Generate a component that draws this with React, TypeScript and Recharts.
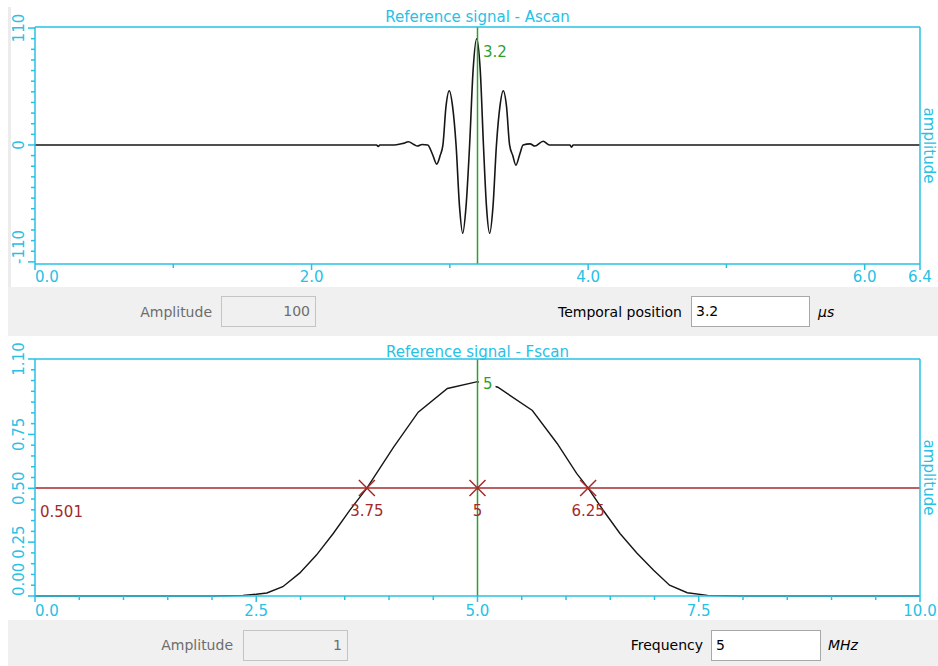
import React from 'react';
import { ComposedChart, Line, XAxis, YAxis, ReferenceLine, Scatter } from 'recharts';

const FONT = '"DejaVu Sans", Verdana, sans-serif';
const CYAN = '#27c1e6';
const GREEN = '#2d9f2d';
const RED = '#a42a2a';
const CURVE = '#161616';

// ---------- Ascan (time domain) ----------
const ascanTime = [
  0, 2.47, 2.482, 2.494, 2.6, 2.663, 2.70, 2.74, 2.765, 2.80,
  2.84, 2.875, 2.905, 2.93, 2.95, 2.972, 2.996, 3.02, 3.045, 3.07,
  3.093, 3.117, 3.143, 3.168, 3.194, 3.22, 3.243, 3.265, 3.288, 3.312,
  3.337, 3.362, 3.386, 3.41, 3.432, 3.455, 3.478, 3.505, 3.53, 3.58,
  3.615, 3.675, 3.72, 3.868, 3.88, 3.892, 6.4,
];
const ascanAmplitude = [
  0, 0, -1.5, 0, 0, 1.5, 3, 0.5, -1, 0.5,
  0, -9, -18, -10, 0, 36, 51, 36, 0, -58,
  -83, -58, 0, 70, 100, 70, 0, -58, -83, -58,
  0, 36, 51, 36, 0, -10, -19, -9, 0, 1,
  -1, 3.5, 0, 0, -2, 0, 0,
];
const ascanXTicks = [0, 1, 2, 3, 4, 5, 6, 6.4];
const ascanXMajor = [0, 2, 4, 6, 6.4];
const ascanXLabels = ['0.0', '2.0', '4.0', '6.0', '6.4'];
const ascanYTicks = [110, 100, 90, 80, 70, 60, 50, 40, 30, 20, 10, 0, -10, -20, -30, -40, -50, -60, -70, -80, -90, -100, -110];
const ascanYMajor = [110, 0, -110];
const ascanYLabels = ['110', '0', '-110'];
const ascanCursor = 3.2;
const ascanCursorLabel = '3.2';

// ---------- Fscan (frequency domain) ----------
const fscanFreq = [
  0, 2.0, 2.35, 2.5, 2.62, 2.8, 2.99, 3.18, 3.37, 3.56,
  3.75, 4.05, 4.33, 4.66, 5.0, 5.23, 5.62, 5.9, 6.12, 6.25,
  6.42, 6.61, 6.8, 6.99, 7.17, 7.37, 7.6, 8.0, 10,
];
const fscanAmplitude = [
  0, 0, 0.003, 0.008, 0.014, 0.043, 0.106, 0.19, 0.29, 0.40,
  0.501, 0.69, 0.853, 0.963, 0.995, 0.969, 0.861, 0.708, 0.569, 0.501,
  0.398, 0.29, 0.20, 0.12, 0.05, 0.015, 0.003, 0, 0,
];
const fscanXTicks = [0, 0.5, 1, 1.5, 2, 2.5, 3, 3.5, 4, 4.5, 5, 5.5, 6, 6.5, 7, 7.5, 8, 8.5, 9, 9.5, 10];
const fscanXMajor = [0, 2.5, 5, 7.5, 10];
const fscanXLabels = ['0.0', '2.5', '5.0', '7.5', '10.0'];
const fscanYTicks = [0, 0.05, 0.1, 0.15, 0.2, 0.25, 0.3, 0.35, 0.4, 0.45, 0.5, 0.55, 0.6, 0.65, 0.7, 0.75, 0.8, 0.85, 0.9, 0.95, 1.0, 1.05, 1.1];
const fscanYMajor = [1.1, 0.75, 0.5, 0.25, 0];
const fscanYLabels = ['1.10', '0.75', '0.50', '0.25', '0.00'];
const fscanCursor = 5;
const fscanCursorLabel = '5';
const halfMaxLevel = 0.501;
const halfMaxLevelLabel = '0.501';
const halfMaxFreqs = [3.75, 5, 6.25];
const halfMaxLabels = ['3.75', '5', '6.25'];

// ---------- helpers ----------
const FS = 15;
function textW(s: string, fs: number) {
  let w = 0;
  for (const c of s) {
    if (c === '.') w += 0.318;
    else if (c === '-') w += 0.361;
    else w += 0.636;
  }
  return w * fs;
}
function findIdx(arr: number[], v: number) {
  return arr.findIndex((m) => Math.abs(m - v) < 1e-6);
}

function makeXTick(majors: number[], labels: string[], axisY: number, left: number, baseline: number) {
  return (props: any) => {
    const { x, payload } = props;
    const idx = findIdx(majors, payload.value);
    const major = idx >= 0;
    const len = major ? 6 : 4;
    const label = major ? labels[idx] : '';
    const w = textW(label, FS);
    const cx = Math.max(x, left + w / 2);
    return (
      <g>
        <line x1={x} x2={x} y1={axisY} y2={axisY + len} stroke={CYAN} strokeWidth={1.5} />
        {label ? (
          <text x={cx} y={baseline} textAnchor="middle" fill={CYAN} fontSize={FS} fontFamily={FONT}>
            {label}
          </text>
        ) : null}
      </g>
    );
  };
}

function makeYTick(majors: number[], labels: string[], axisX: number, bottom: number) {
  return (props: any) => {
    const { y, payload } = props;
    const idx = findIdx(majors, payload.value);
    const major = idx >= 0;
    const len = major ? 7 : 4;
    const label = major ? labels[idx] : '';
    const w = textW(label, FS);
    const cy = Math.min(y, bottom - w / 2);
    const lx = 19;
    return (
      <g>
        <line x1={axisX - len} x2={axisX} y1={y} y2={y} stroke={CYAN} strokeWidth={1.5} />
        {label ? (
          <text
            x={lx}
            y={cy}
            transform={`rotate(-90 ${lx} ${cy})`}
            textAnchor="middle"
            dominantBaseline="central"
            fill={CYAN}
            fontSize={FS}
            fontFamily={FONT}
          >
            {label}
          </text>
        ) : null}
      </g>
    );
  };
}

const axisLine = { stroke: CYAN, strokeWidth: 1.5 };

function titleLabel(text: string, baseline: number) {
  return () => (
    <text x={477.5} y={baseline} textAnchor="middle" fill={CYAN} fontSize={FS} fontFamily={FONT}>
      {text}
    </text>
  );
}
function rightLabel(cy: number) {
  return () => (
    <text
      x={929}
      y={cy}
      transform={`rotate(90 929 ${cy})`}
      textAnchor="middle"
      dominantBaseline="central"
      fill={CYAN}
      fontSize={FS}
      fontFamily={FONT}
    >
      amplitude
    </text>
  );
}
function cursorLabel(text: string, plotTop: number, bg: boolean) {
  return (props: any) => {
    const vb = props.viewBox || {};
    const x = (vb.x ?? 0) + 5.5;
    const base = plotTop + 29.5;
    const w = textW(text, FS);
    return (
      <g>
        {bg ? <rect x={x - 4} y={base - 13} width={w + 7} height={16} fill="#fff" /> : null}
        <text x={x} y={base} fill={GREEN} fontSize={FS} fontFamily={FONT}>
          {text}
        </text>
      </g>
    );
  };
}

function AscanChart() {
  const data = ascanTime.map((t, i) => ({ t, amp: ascanAmplitude[i] }));
  const top = 27;
  const bottom = 264;
  return (
    <ComposedChart width={938} height={287} data={data} margin={{ top: 0, right: 0, bottom: 0, left: 0 }}>
      <XAxis
        xAxisId="top"
        orientation="top"
        type="number"
        dataKey="t"
        domain={[0, 6.4]}
        height={top}
        tick={false}
        tickLine={false}
        axisLine={axisLine}
        label={titleLabel('Reference signal - Ascan', 22)}
      />
      <XAxis
        xAxisId="b"
        type="number"
        dataKey="t"
        domain={[0, 6.4]}
        ticks={ascanXTicks}
        interval={0}
        height={23}
        tickLine={false}
        axisLine={axisLine}
        tick={makeXTick(ascanXMajor, ascanXLabels, bottom, 35, 282)}
      />
      <YAxis
        yAxisId="l"
        type="number"
        domain={[-112, 111]}
        ticks={ascanYTicks}
        interval={0}
        width={35}
        tickLine={false}
        axisLine={axisLine}
        tick={makeYTick(ascanYMajor, ascanYLabels, 35, bottom)}
      />
      <YAxis
        yAxisId="r"
        orientation="right"
        type="number"
        domain={[-112, 111]}
        width={18}
        tick={false}
        tickLine={false}
        axisLine={axisLine}
        label={rightLabel((top + bottom) / 2)}
      />
      <Line
        xAxisId="b"
        yAxisId="l"
        dataKey="amp"
        type="monotone"
        stroke={CURVE}
        strokeWidth={1.6}
        dot={false}
        isAnimationActive={false}
      />
      <ReferenceLine
        xAxisId="b"
        yAxisId="l"
        x={ascanCursor}
        stroke={GREEN}
        strokeWidth={1.5}
        label={cursorLabel(ascanCursorLabel, top, false)}
      />
    </ComposedChart>
  );
}

function XMarker(props: any) {
  const { cx, cy, payload } = props;
  const s = 8;
  return (
    <g>
      <path
        d={`M${cx - s},${cy - s}L${cx + s},${cy + s}M${cx - s},${cy + s}L${cx + s},${cy - s}`}
        stroke={RED}
        strokeWidth={1.5}
        fill="none"
      />
      <text x={cx} y={cy + 28} textAnchor="middle" fill={RED} fontSize={FS} fontFamily={FONT}>
        {payload.label}
      </text>
    </g>
  );
}

function FscanChart() {
  const data = fscanFreq.map((f, i) => ({ f, amp: fscanAmplitude[i] }));
  const markers = halfMaxFreqs.map((f, i) => ({ f, v: halfMaxLevel, label: halfMaxLabels[i] }));
  const top = 23;
  const bottom = 260;
  return (
    <ComposedChart width={938} height={284} data={data} margin={{ top: 0, right: 0, bottom: 0, left: 0 }}>
      <XAxis
        xAxisId="top"
        orientation="top"
        type="number"
        dataKey="f"
        domain={[0, 10]}
        height={top}
        tick={false}
        tickLine={false}
        axisLine={axisLine}
        label={titleLabel('Reference signal - Fscan', 21)}
      />
      <XAxis
        xAxisId="b"
        type="number"
        dataKey="f"
        domain={[0, 10]}
        ticks={fscanXTicks}
        interval={0}
        height={24}
        tickLine={false}
        axisLine={axisLine}
        tick={makeXTick(fscanXMajor, fscanXLabels, bottom, 35, 280)}
      />
      <YAxis
        yAxisId="l"
        type="number"
        domain={[0, 1.1]}
        ticks={fscanYTicks}
        interval={0}
        width={35}
        tickLine={false}
        axisLine={axisLine}
        tick={makeYTick(fscanYMajor, fscanYLabels, 35, bottom)}
      />
      <YAxis
        yAxisId="r"
        orientation="right"
        type="number"
        domain={[0, 1.1]}
        width={18}
        tick={false}
        tickLine={false}
        axisLine={axisLine}
        label={rightLabel((top + bottom) / 2)}
      />
      <ReferenceLine
        xAxisId="b"
        yAxisId="l"
        y={halfMaxLevel}
        stroke={RED}
        strokeWidth={1.5}
        label={(props: any) => {
          const vb = props.viewBox || {};
          return (
            <text x={(vb.x ?? 35) + 5} y={(vb.y ?? 0) + 29} fill={RED} fontSize={FS} fontFamily={FONT}>
              {halfMaxLevelLabel}
            </text>
          );
        }}
      />
      <Line
        xAxisId="b"
        yAxisId="l"
        dataKey="amp"
        type="linear"
        stroke={CURVE}
        strokeWidth={1.4}
        dot={false}
        isAnimationActive={false}
      />
      <Scatter
        xAxisId="b"
        yAxisId="l"
        data={markers}
        dataKey="v"
        shape={XMarker}
        isAnimationActive={false}
      />
      <ReferenceLine
        xAxisId="b"
        yAxisId="l"
        x={fscanCursor}
        stroke={GREEN}
        strokeWidth={1.5}
        label={cursorLabel(fscanCursorLabel, top, true)}
      />
    </ComposedChart>
  );
}

const panelText: React.CSSProperties = {
  position: 'absolute',
  height: 20,
  lineHeight: '20px',
  fontSize: 14,
  whiteSpace: 'nowrap',
  fontFamily: FONT,
};

function Label({ right, left, cy, color, italic, children }: any) {
  const pos: React.CSSProperties =
    right !== undefined ? { right: 938 - right, textAlign: 'right' } : { left };
  return (
    <div style={{ ...panelText, ...pos, top: cy - 10, color, fontStyle: italic ? 'italic' : 'normal' }}>
      {children}
    </div>
  );
}

function Box({ left, top, width, height, disabled, align, children }: any) {
  return (
    <div
      style={{
        position: 'absolute',
        left,
        top,
        width,
        height,
        boxSizing: 'border-box',
        border: `1px solid ${disabled ? '#c4c4c4' : '#a8a8a8'}`,
        background: disabled ? '#f0f0f0' : '#ffffff',
        color: disabled ? '#6d6d6d' : '#000',
        fontSize: 14,
        fontFamily: FONT,
        lineHeight: `${height - 2}px`,
        padding: align === 'right' ? '0 5px 0 0' : '0 0 0 4px',
        textAlign: align,
        whiteSpace: 'nowrap',
      }}
    >
      {children}
    </div>
  );
}

export default function App() {
  return (
    <div
      style={{
        position: 'fixed',
        left: 0,
        top: 0,
        width: 938,
        height: 666,
        background: '#fff',
        overflow: 'hidden',
        fontFamily: FONT,
      }}
    >
      <div style={{ position: 'absolute', left: 8, top: 7, width: 3, height: 280, background: '#ececec' }} />
      <div style={{ position: 'absolute', left: 0, top: 0, width: 938, height: 287, overflow: 'hidden' }}>
        <AscanChart />
      </div>
      <div style={{ position: 'absolute', left: 8, top: 287, width: 930, height: 49, background: '#f0f0f0' }} />
      <Label right={212} cy={312} color="#6d6d6d">Amplitude</Label>
      <Box left={221} top={296} width={95} height={31} disabled align="right">100</Box>
      <Label right={682} cy={312} color="#000">Temporal position</Label>
      <Box left={691} top={296} width={119} height={31} align="left">3.2</Box>
      <Label left={818} cy={312} color="#000" italic>µs</Label>

      <div style={{ position: 'absolute', left: 0, top: 336, width: 938, height: 284, overflow: 'hidden' }}>
        <FscanChart />
      </div>
      <div style={{ position: 'absolute', left: 8, top: 620, width: 930, height: 46, background: '#f0f0f0' }} />
      <Label right={233} cy={645} color="#6d6d6d">Amplitude</Label>
      <Box left={243} top={630} width={105} height={31} disabled align="right">1</Box>
      <Label right={703} cy={645} color="#000">Frequency</Label>
      <Box left={711} top={630} width={110} height={31} align="left">5</Box>
      <Label left={828} cy={645} color="#000" italic>MHz</Label>
    </div>
  );
}
